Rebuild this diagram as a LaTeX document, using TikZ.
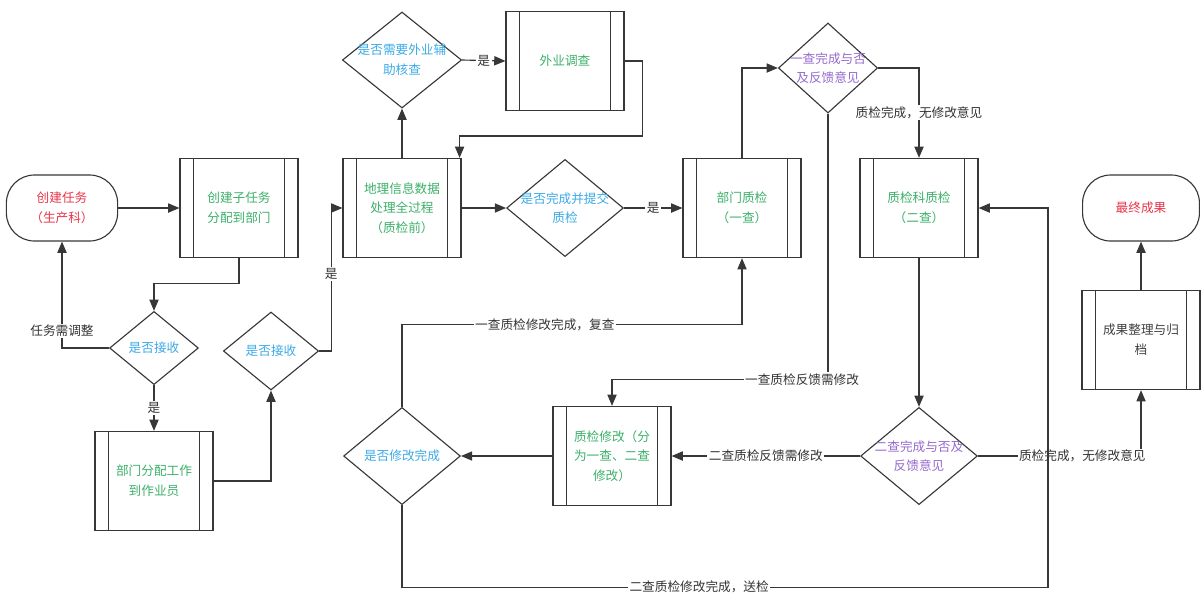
\documentclass[tikz,border=0pt]{standalone}
\usepackage{fontspec}
\newfontfamily\cjk{Noto Sans CJK SC}
\usetikzlibrary{arrows.meta, positioning, shapes.geometric}
\definecolor{termred}{RGB}{232,52,72}
\definecolor{procgreen}{RGB}{60,175,105}
\definecolor{decblue}{RGB}{60,170,230}
\definecolor{decpurple}{RGB}{150,105,205}
\definecolor{linegray}{RGB}{55,55,55}

\begin{document}
\begin{tikzpicture}[
  x=0.025cm, y=-0.025cm,
  font=\cjk\fontsize{9}{14}\selectfont,
  term/.style   ={draw=linegray, line width=0.8pt, rounded corners=0.7cm, align=center,
                  minimum width=2.78cm, minimum height=1.65cm, text=termred},
  proc/.style   ={draw=linegray, line width=0.8pt, align=center, inner sep=0pt,
                  minimum width=2.95cm, minimum height=2.48cm, text=procgreen,
                  path picture={\draw[linegray, line width=0.8pt]
                    ([xshift=0.33cm]path picture bounding box.north west) -- ([xshift=0.33cm]path picture bounding box.south west)
                    ([xshift=-0.33cm]path picture bounding box.north east) -- ([xshift=-0.33cm]path picture bounding box.south east);}},
  dec/.style    ={draw=linegray, line width=0.8pt, diamond, inner sep=0pt,
                  minimum width=2.92cm, minimum height=2.43cm},
  dectext/.style={align=center, text=decblue},
  arr/.style    ={-{Triangle[length=2.8mm, width=2.3mm]}, line width=0.8pt, draw=linegray},
  lbl/.style    ={fill=white, inner sep=1pt, text=black!80},
]
  \useasboundingbox (0,0) rectangle (1201,595);

  \node[term]                   (start)   at (62,208)  {创建任务\\（生产科）};
  \node[proc]                   (sub)     at (239,208) {创建子任务\\分配到部门};
  \node[dec, minimum width=2.22cm, minimum height=1.83cm,
        label={[dectext]center:是否接收}] (accept1) at (154,348) {};
  \node[proc]                   (assign)  at (154,481) {部门分配工作\\到作业员};
  \node[dec, minimum width=2.38cm, minimum height=1.95cm,
        label={[dectext]center:是否接收}] (accept2) at (271,351) {};
  \node[proc]                   (geo)     at (402,208) {地理信息数据\\处理全过程\\（质检前）};
  \node[dec, minimum width=2.98cm, minimum height=2.4cm,
        label={[dectext]center:{是否需要外业辅\\助核查}}] (needfield) at (402,60) {};
  \node[proc]                   (survey)  at (565,61)  {外业调查};
  \node[dec, label={[dectext]center:{是否完成并提交\\质检}}] (submit) at (565,208) {};
  \node[proc]                   (qcone)   at (742,208) {部门质检\\（一查）};
  \node[dec, minimum width=2.48cm, minimum height=2.25cm,
        label={[dectext, text=decpurple]center:{一查完成与否\\及反馈意见}}] (fbone) at (828,68) {};
  \node[proc]                   (qctwo)   at (919,208) {质检科质检\\（二查）};
  \node[dec, label={[dectext, text=decpurple]center:{二查完成与否及\\反馈意见}}] (fbtwo) at (919,456) {};
  \node[proc]                   (fix)     at (612,456) {质检修改（分\\为一查、二查\\修改）};
  \node[dec, label={[dectext]center:是否修改完成}] (fixdone) at (402,456) {};
  \node[proc, text=black!75]    (archive) at (1141,340) {成果整理与归\\档};
  \node[term, minimum width=2.92cm] (final) at (1141,208) {最终成果};

  \draw[arr] (start) -- (sub);
  \draw[arr] (sub.south) -- ++(0,25) -| (accept1.north);
  \draw[arr] (accept1.west) -| node[lbl, pos=0.58]{任务需调整} (start.south);
  \draw[arr] (accept1.south) -- node[lbl]{是} (assign.north);
  \draw[arr] (assign.east) -| (accept2.south);
  \draw[arr] (accept2.east) -- ++(12,0) |- node[lbl, pos=0.27]{是} (geo.west);
  \draw[arr] (geo.north) -- (needfield.south);
  \draw[arr] (needfield.east) -- node[lbl]{是} (survey.west);
  \draw[arr] (survey.east) -- ++(18,0) -- ++(0,75) -| ([xshift=-0.05cm]geo.north east);
  \draw[arr] (geo.east) -- (submit.west);
  \draw[arr] (submit.east) -- node[lbl]{是} (qcone.west);
  \draw[arr] (qcone.north) |- (fbone.west);
  \draw[arr] (fbone.east) -| node[lbl, pos=0.75]{质检完成，无修改意见} (qctwo.north);
  \draw[arr] (fbone.south) -- ++(0,266) -| node[lbl, pos=0.06]{一查质检反馈需修改} (fix.north);
  \draw[arr] (qctwo.south) -- (fbtwo.north);
  \draw[arr] (fbtwo.west) -- node[lbl]{二查质检反馈需修改} (fix.east);
  \draw[arr] (fbtwo.east) -| node[lbl, pos=0.32]{质检完成，无修改意见} (archive.south);
  \draw[arr] (archive.north) -- (final.south);
  \draw[arr] (fix.west) -- (fixdone.east);
  \draw[arr] (fixdone.north) -- ++(0,-82) -| node[lbl, pos=0.21]{一查质检修改完成，复查} (qcone.south);
  \draw[arr] (fixdone.south) -- ++(0,82) -- node[lbl, pos=0.46]{二查质检修改完成，送检} ++(646,0) |- (qctwo.east);
\end{tikzpicture}
\end{document}
